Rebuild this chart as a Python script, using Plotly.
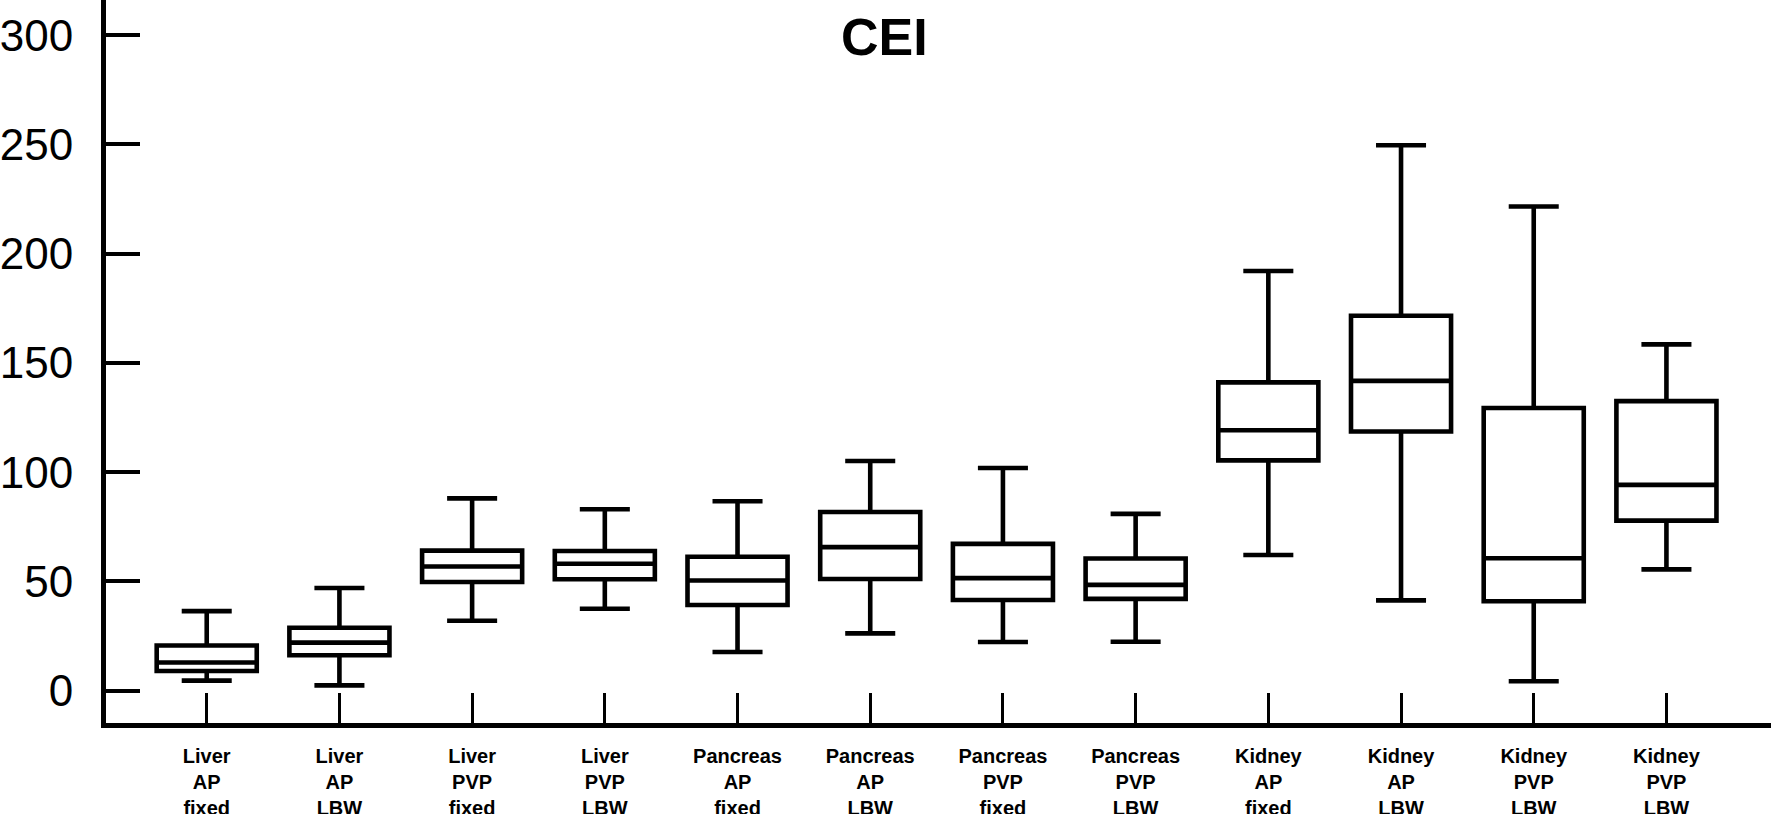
import plotly.graph_objects as go

categories = [
    "Liver<br>AP<br>fixed", "Liver<br>AP<br>LBW", "Liver<br>PVP<br>fixed", "Liver<br>PVP<br>LBW",
    "Pancreas<br>AP<br>fixed", "Pancreas<br>AP<br>LBW", "Pancreas<br>PVP<br>fixed", "Pancreas<br>PVP<br>LBW",
    "Kidney<br>AP<br>fixed", "Kidney<br>AP<br>LBW", "Kidney<br>PVP<br>LBW", "Kidney<br>PVP<br>LBW",
]
lower_whisker = [4.6, 2.4, 32.0, 37.5, 17.7, 26.2, 22.3, 22.4, 62.1, 41.3, 4.3, 55.5]
q1_values = [9.0, 16.2, 49.7, 51.0, 39.2, 51.1, 41.5, 42.0, 105.4, 118.6, 40.9, 77.8]
medians = [12.9, 22.0, 56.8, 58.1, 50.4, 65.7, 51.5, 48.4, 119.2, 141.8, 60.6, 94.2]
q3_values = [20.7, 28.8, 64.1, 63.9, 61.3, 81.8, 67.2, 60.5, 141.1, 171.6, 129.4, 132.5]
upper_whisker = [36.4, 47.0, 88.0, 83.0, 86.7, 105.1, 101.9, 80.9, 192.1, 249.6, 221.6, 158.5]
y_ticks = [0, 50, 100, 150, 200, 250, 300]
title_text = "CEI"

positions = list(range(len(categories)))
tick_text = ["<b>" + c.replace("<br>", "</b><br><b>") + "</b>" for c in categories]

fig = go.Figure()
fig.add_trace(go.Box(
    x=positions,
    q1=q1_values, median=medians, q3=q3_values,
    lowerfence=lower_whisker, upperfence=upper_whisker,
    width=0.754,
    whiskerwidth=0.5,
    line=dict(color="black", width=4.6),
    fillcolor="rgba(255,255,255,0)",
    boxpoints=False,
    showlegend=False,
    hoverinfo="skip",
))

fig.add_annotation(
    text="<b>" + title_text + "</b>",
    xref="paper", yref="paper",
    x=(884 - 106) / 1665, y=1 - 37 / 722.7,
    xanchor="center", yanchor="middle",
    showarrow=False,
    font=dict(family="Liberation Sans, Arial, sans-serif", size=52, color="black"),
)

fig.update_layout(
    width=1771, height=814,
    margin=dict(l=106, r=0, t=0, b=91, pad=0),
    paper_bgcolor="white", plot_bgcolor="white",
    font=dict(family="Liberation Sans, Arial, sans-serif", color="black"),
    xaxis=dict(
        range=[-0.759, 11.788],
        tickmode="array", tickvals=positions, ticktext=tick_text,
        ticks="inside", ticklen=30, tickwidth=3, tickcolor="black",
        showline=True, linecolor="black", linewidth=5,
        showgrid=False, zeroline=False,
        tickfont=dict(size=20, color="black"),
        ticklabelstandoff=11,
        automargin=False,
        fixedrange=True,
    ),
    yaxis=dict(
        range=[-14.8, 316.1],
        tickmode="array", tickvals=y_ticks,
        ticks="inside", ticklen=34, tickwidth=4, tickcolor="black",
        showline=True, linecolor="black", linewidth=5,
        showgrid=False, zeroline=False,
        tickfont=dict(size=44, color="black"),
        ticklabelstandoff=19,
        automargin=False,
        fixedrange=True,
    ),
)

fig.write_html(
    "out.html",
    config={"displayModeBar": False, "staticPlot": True},
    post_script="document.body.style.margin='0';document.body.style.overflow='hidden';",
)
